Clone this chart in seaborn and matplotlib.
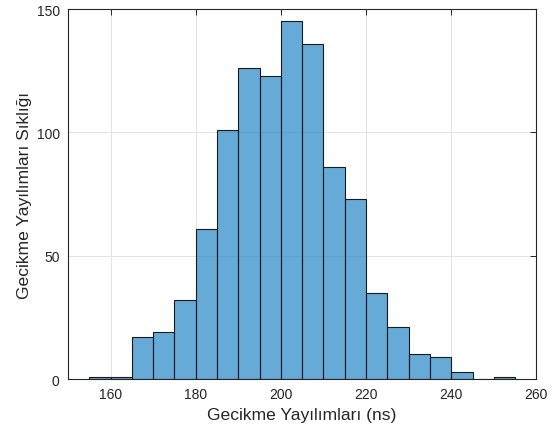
import numpy as np
import pandas as pd
import matplotlib
matplotlib.use("Agg")
import matplotlib.pyplot as plt
import seaborn as sns

# Histogram of delay spread values: 5 ns bins from 155 to 255 ns
bin_start = 155
bin_width = 5
counts = [1, 1, 17, 19, 32, 61, 101, 126, 123, 145, 136, 86, 73, 35, 21, 10, 9, 3, 0, 1]
x_ticks = [160, 180, 200, 220, 240, 260]
y_ticks = [0, 50, 100, 150]
x_label = "Gecikme Yayılımları (ns)"
y_label = "Gecikme Yayılımları Sıklığı"

bin_end = bin_start + bin_width * len(counts)
centers = bin_start + bin_width * (np.arange(len(counts)) + 0.5)
df = pd.DataFrame({"delay": centers, "count": counts})

sns.set_theme(style="whitegrid")
plt.rcParams["font.family"] = ["Liberation Sans", "DejaVu Sans"]

fig = plt.figure(figsize=(5.59, 4.35), dpi=100)
ax = fig.add_axes([0.1216, 0.1264, 0.8380, 0.8506])

sns.histplot(
    data=df, x="delay", weights="count",
    binwidth=bin_width, binrange=(bin_start, bin_end), ax=ax,
    color="#0072BD", alpha=0.6, edgecolor="#1a1a1a", linewidth=0.8,
)

ax.set_xlim(150, 260)
ax.set_ylim(0, 150)
ax.set_xticks(x_ticks)
ax.set_yticks(y_ticks)
ax.set_xlabel(x_label, fontsize=12.6, color="#262626", labelpad=4)
ax.set_ylabel(y_label, fontsize=12.6, color="#262626", labelpad=3)

ax.grid(True, color="#e3e3e3", linewidth=0.7)
ax.set_axisbelow(True)
ax.set_facecolor("white")
for s in ax.spines.values():
    s.set_visible(True)
    s.set_color("#262626")
    s.set_linewidth(0.8)
ax.tick_params(axis="both", which="both", direction="in", length=4, width=0.7,
               colors="#262626", labelsize=10, top=True, right=True,
               labeltop=False, labelright=False, pad=6)

fig.savefig("out.png", dpi=100, facecolor="white")
